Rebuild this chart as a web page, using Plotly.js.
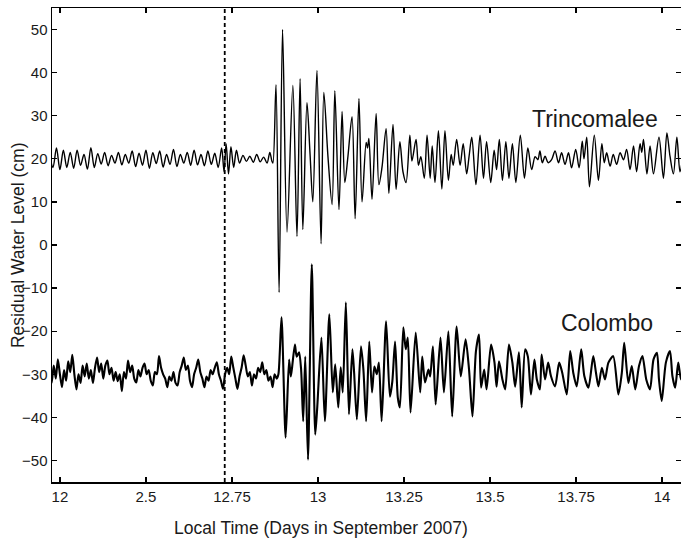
<!DOCTYPE html>
<html>
<head>
<meta charset="utf-8">
<script src="https://cdn.plot.ly/plotly-3.0.1.min.js"></script>
<style>html,body{margin:0;padding:0;background:#fff;}#chart{width:681px;height:541px;}</style>
</head>
<body>
<div id="chart"></div>
<script>
// ---- data (days in September 2007, residual water level in cm) ----
const trincTime = [
12.220,12.230,12.240,12.250,12.260,12.270,12.280,12.290,12.300,12.310,12.320,12.330,12.340,12.350,12.360,12.370,12.380,12.390,12.400,12.410,
12.420,12.430,12.440,12.450,12.460,12.470,12.480,12.490,12.500,12.510,12.520,12.530,12.540,12.550,12.560,12.570,12.580,12.590,12.600,12.610,
12.620,12.630,12.640,12.650,12.660,12.670,12.680,12.690,12.700,12.710,12.720,12.727,12.733,12.740,12.747,12.755,12.763,12.772,12.782,12.792,
12.802,12.812,12.822,12.832,12.842,12.852,12.860,12.866,12.869,
12.878,12.887,12.897,12.910,12.927,12.939,12.948,12.956,12.968,12.977,12.985,12.997,13.009,13.017,13.029,13.041,13.049,13.061,13.070,13.078,
13.087,13.099,13.108,13.119,13.128,13.140,13.144,13.148,13.157,13.169,13.177,13.186,13.198,13.206,13.218,13.227,13.238,13.247,13.256,13.267,
13.273,13.285,13.292,13.299,13.309,13.317,13.326,13.332,13.340,13.350,13.360,13.369,13.379,13.387,13.393,13.403,13.413,13.422,13.432,13.439,
13.447,13.459,13.471,13.481,13.490,13.502,13.512,13.519,13.527,13.536,13.546,13.555,13.565,13.575,13.588,13.600,13.610,13.621,13.631,13.639,
13.645,13.652,13.660,13.669,13.679,13.689,13.699,13.708,13.718,13.728,13.737,13.749,13.759,13.768,13.773,13.781,13.789,13.803,13.815,13.825,
13.832,13.839,13.849,13.858,13.868,13.878,13.888,13.897,13.907,13.917,13.926,13.936,13.941,13.946,13.956,13.965,13.975,13.991,14.004,14.014,
14.023,14.033,14.043,14.052,14.061
];
const trincLevel = [
21,18,22.5,17.5,22,18,21.5,17.8,22,18.5,21,17.6,22.6,18,21.2,18.8,21.5,18.4,20.8,19,
21.5,18.6,21,19,21.8,18.2,21.3,18.5,22,17.8,21.4,18.9,21.8,18.1,21,18.7,22.2,18.2,21,19,
21.5,18.5,22,18.6,21,18.4,21.8,18.7,21.3,18,22.5,17,23.5,16.5,22.8,18,22,19,20.8,19.4,
20.6,19.2,21,19.3,20.4,19,21.5,19.5,19,
37.2,-11,50,3,37,2,38.6,3.6,33,21,10,40.5,0.3,35.4,20.5,9.4,35.8,8.2,31,14.5,
20.5,29.8,6.1,34,10,23.8,22.5,24.7,10.6,30.5,14,18,27,12,28,12.9,24,17,14.5,25.5,
19.5,24.5,18.5,20.5,15.5,25.5,15.5,23,14.5,26.5,13,26.5,15,21,18.5,24.5,18.5,23.5,16.5,20.5,
25,14,25.5,15.5,24,14.5,22,17.5,24.5,15,24,15.5,23.5,14.5,25.5,15.5,22.5,17.5,20.5,19.8,
21.8,19.1,20.6,19.1,19.8,21.8,19.1,21.4,18.7,21.4,17.9,22.2,17.9,24.1,20,25,13.5,25.5,15,23.5,
19.1,21.4,18.3,21,18.7,21.4,19.8,22.2,17.5,23,17,23.5,21.5,24.5,16.5,23,16.5,25,15.5,26,
20.6,16.5,25,17,21
];

const colomboTime = [
12.220,12.226,12.232,12.238,12.244,12.250,12.256,12.262,12.268,12.274,12.280,12.286,12.292,12.298,12.304,12.310,12.316,12.322,12.328,12.334,
12.340,12.346,12.352,12.358,12.364,12.370,12.376,12.382,12.388,12.394,12.400,12.406,12.412,12.418,12.424,12.430,12.436,12.442,12.448,12.454,
12.460,12.466,12.472,12.478,12.484,12.490,12.496,12.502,12.508,12.514,12.520,12.526,12.532,12.538,12.544,12.550,12.556,12.562,12.568,12.574,
12.580,12.586,12.592,12.598,12.604,12.610,12.616,12.622,12.628,12.634,12.640,12.646,12.652,12.658,12.664,12.670,12.676,12.682,12.688,12.694,
12.700,12.706,12.712,12.718,12.724,12.730,12.736,12.742,12.748,12.754,12.760,12.766,12.772,12.778,12.784,12.790,12.796,12.802,12.808,12.814,
12.820,12.826,12.832,12.838,12.844,12.850,12.856,12.862,12.868,12.874,12.880,
12.885,12.894,12.906,12.916,12.921,12.925,12.933,12.938,12.945,12.951,12.957,12.963,12.971,12.982,12.992,12.998,13.010,13.020,13.033,13.043,
13.050,13.059,13.066,13.072,13.081,13.090,13.100,13.105,13.113,13.125,13.132,13.140,13.149,13.157,13.164,13.171,13.177,13.185,13.198,13.209,
13.216,13.224,13.232,13.238,13.248,13.255,13.261,13.269,13.284,13.297,13.303,13.311,13.321,13.326,13.334,13.342,13.356,13.366,13.379,13.390,
13.403,13.415,13.429,13.439,13.449,13.459,13.468,13.474,13.483,13.490,13.503,13.513,13.519,13.526,13.536,13.544,13.555,13.565,13.573,13.584,
13.592,13.602,13.610,13.619,13.629,13.636,13.645,13.650,13.660,13.669,13.677,13.689,13.701,13.710,13.723,13.733,13.742,13.752,13.765,13.774,
13.786,13.800,13.808,13.815,13.825,13.834,13.844,13.858,13.873,13.883,13.890,13.902,13.912,13.922,13.933,13.943,13.954,13.965,13.975,13.985,
13.991,13.999,14.011,14.023,14.030,14.038,14.047,14.055,14.064
];
const colomboLevel = [
-29,-32,-28,-31,-26.5,-30,-33,-29,-31.5,-27,-29.5,-25.5,-30,-33.5,-30,-32,-28,-30.5,-27.5,-31,
-29,-32,-28.5,-26.1,-29.5,-27.5,-31,-28,-26.8,-30,-28.5,-31.5,-29.5,-31.6,-30,-33.9,-29.5,-31,-26.8,-29.5,
-28,-31,-31.9,-29,-30.5,-28.5,-27.5,-30,-29,-31.5,-32.6,-29.5,-30,-25.8,-28.5,-30,-31,-33,-30.5,-31.5,
-29.5,-32,-32.6,-29.5,-28,-26.1,-29,-28,-31.5,-33,-30,-28.5,-26.6,-29.5,-31,-33,-30.5,-31.5,-29,-30,
-28.5,-27.2,-30,-31.5,-33.4,-30,-28.5,-30,-25.9,-28.5,-31,-33.4,-30.5,-28.5,-25.6,-28,-30.5,-29.5,-32.6,-30,
-31,-28.5,-29.5,-27.2,-30,-29,-31.5,-30.5,-33,-30,-31,
-30,-16.8,-44.7,-26.6,-30.5,-28.2,-23.1,-25.9,-24.9,-28.9,-40.9,-25.9,-49.8,-4.5,-44,-37.5,-21.5,-40.9,-16.1,-34.2,
-27.7,-37.7,-28.4,-34.2,-13.3,-39.3,-24.2,-29.6,-40.5,-23.5,-28.9,-40.9,-22.4,-34.2,-28.2,-30,-27.3,-40.9,-17.7,-35.2,
-31.7,-22.4,-35.4,-37.7,-19.1,-24.2,-21.5,-38.9,-20.3,-34.2,-25.9,-31.9,-28.9,-30.5,-23.5,-37,-21.5,-34.2,-20,-39.8,
-18.9,-30.5,-21.9,-28.9,-39.8,-24.7,-20.8,-33.1,-28.9,-33.5,-23.1,-27.3,-32.9,-27,-31.2,-33.5,-23.1,-27.3,-32.9,-24.9,
-37.7,-24.2,-25.9,-34.7,-26.6,-31.2,-33.5,-25.4,-31.2,-27.3,-30.4,-32.8,-27.3,-29.7,-34.7,-24.6,-29.7,-32.8,-24.2,-30.4,
-33.1,-25.8,-29.7,-32.8,-28.5,-31.2,-27.3,-25.8,-34.7,-29.7,-22.7,-32,-28.1,-33.5,-28.1,-25.8,-31.2,-33.5,-26.6,-25,
-31.2,-36.2,-27.3,-24.6,-30.4,-33.1,-27.3,-31.2,-29
];

const xTickVals = [12.25,12.5,12.75,13,13.25,13.5,13.75,14];
const xTickText = ['12','2.5','12.75','13','13.25','13.5','13.75','14'];
const yTickVals = [-50,-40,-30,-20,-10,0,10,20,30,40,50];
const eventTime = 12.729;
const xRange = [12.227, 14.055];
const yRange = [-55, 55];

const FONT = 'Liberation Sans, Arial, Helvetica, sans-serif';
const TXT = '#1a1a1a';

const traces = [
  {x: trincTime, y: trincLevel, type: 'scatter', mode: 'lines', name: 'Trincomalee',
   line: {color: '#000', width: 1.4, shape: 'spline', smoothing: 0.9}, hoverinfo: 'skip'},
  {x: colomboTime, y: colomboLevel, type: 'scatter', mode: 'lines', name: 'Colombo',
   line: {color: '#000', width: 2.1, shape: 'spline', smoothing: 0.7}, hoverinfo: 'skip'}
];

const axisCommon = {
  showgrid: false, zeroline: false, showline: true, linecolor: '#000', linewidth: 1.5,
  mirror: 'ticks', ticks: 'inside', ticklen: 5, tickwidth: 1.2, tickcolor: '#000',
  tickfont: {family: FONT, size: 15, color: TXT}
};

const layout = {
  width: 681, height: 541,
  margin: {l: 52, r: 0, t: 8, b: 59},
  paper_bgcolor: '#fff', plot_bgcolor: '#fff',
  showlegend: false,
  font: {family: FONT, color: TXT},
  xaxis: Object.assign({}, axisCommon, {
    range: xRange, tickmode: 'array', tickvals: xTickVals, ticktext: xTickText
  }),
  yaxis: Object.assign({}, axisCommon, {
    range: yRange, tickmode: 'array', tickvals: yTickVals
  }),
  shapes: [{type: 'line', xref: 'x', yref: 'paper', x0: eventTime, x1: eventTime, y0: 0, y1: 1,
            line: {color: '#000', width: 1.8, dash: '4px,3px'}}],
  annotations: [
    {text: 'Local Time (Days in September 2007)', xref: 'paper', yref: 'paper', x: 0.428, y: -0.097,
     xanchor: 'center', yanchor: 'middle', showarrow: false, font: {family: FONT, size: 17.5, color: TXT}},
    {text: 'Residual Water Level (cm)', xref: 'paper', yref: 'paper', x: -0.054, y: 0.5, textangle: -90,
     xanchor: 'center', yanchor: 'middle', showarrow: false, font: {family: FONT, size: 17.5, color: TXT}},
    {text: 'Trincomalee', xref: 'x', yref: 'y', x: 13.805, y: 29.3, showarrow: false,
     font: {family: FONT, size: 23, color: TXT}},
    {text: 'Colombo', xref: 'x', yref: 'y', x: 13.84, y: -18.2, showarrow: false,
     font: {family: FONT, size: 23, color: TXT}}
  ]
};

Plotly.newPlot('chart', traces, layout, {staticPlot: true, displayModeBar: false});
</script>
</body>
</html>
